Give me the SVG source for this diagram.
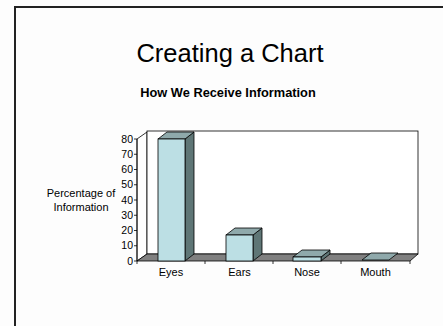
<svg xmlns="http://www.w3.org/2000/svg" width="443" height="326" viewBox="0 0 443 326">
<style>
text{font-family:"Liberation Sans",Arial,sans-serif;fill:#000}
.ax{font-size:10.5px;text-anchor:end}
.cat{font-size:11px;text-anchor:middle}
.front{fill:#BCDFE4;stroke:#000;stroke-width:0.8}
.top{fill:#8FA9AB;stroke:#000;stroke-width:0.8}
.side{fill:#5F7676;stroke:#000;stroke-width:0.8}
.wall{fill:#fff;stroke:#000;stroke-width:0.8}
.ln{stroke:#000;stroke-width:0.8;fill:none}
</style>
<rect width="443" height="326" fill="#fdfdfd"/>
<g id="frame">
<path d="M15 326 V7 H443" fill="none" stroke="#222" stroke-width="2"/>
</g>
<g id="title">
<text x="230" y="62" font-size="25.5" text-anchor="middle">Creating a Chart</text>
<text x="228" y="97" font-size="12.8" font-weight="bold" text-anchor="middle">How We Receive Information</text>
</g>
<g id="ylabel">
<text x="81" y="197" font-size="11" text-anchor="middle">Percentage of</text>
<text x="81" y="211" font-size="11" text-anchor="middle">Information</text>
</g>
<g id="walls">
<polygon class="wall" points="137,139 147,132 147,254 137,261"/>
<rect class="wall" x="147" y="131" width="271" height="123"/>
<polygon points="137,261 147,254 418,254 410,261" fill="#808080" stroke="#000" stroke-width="0.8"/>
</g>
<g id="axis">
<path class="ln" d="M137 139 V261 M134 139 H137 M134 154.25 H137 M134 169.5 H137 M134 184.75 H137 M134 200 H137 M134 215.25 H137 M134 230.5 H137 M134 245.75 H137 M134 261 H137"/>
<path class="ln" d="M137 261 V264 M205 261 V264 M273 261 V264 M341 261 V264 M410 261 V264"/>
<text class="ax" x="133" y="142.5">80</text>
<text class="ax" x="133" y="157.75">70</text>
<text class="ax" x="133" y="173">60</text>
<text class="ax" x="133" y="188.25">50</text>
<text class="ax" x="133" y="203.5">40</text>
<text class="ax" x="133" y="218.75">30</text>
<text class="ax" x="133" y="234">20</text>
<text class="ax" x="133" y="249.25">10</text>
<text class="ax" x="133" y="264.5">0</text>
</g>
<g id="bar-eyes">
<polygon class="side" points="185,139 194,132 194,254 185,261"/>
<polygon class="top" points="158,139 185,139 194,132 167,132"/>
<rect class="front" x="158" y="139" width="27" height="122"/>
<text class="cat" x="171" y="276">Eyes</text>
</g>
<g id="bar-ears">
<polygon class="side" points="253,235 262,228 262,254 253,261"/>
<polygon class="top" points="226,235 253,235 262,228 235,228"/>
<rect class="front" x="226" y="235" width="27" height="26"/>
<text class="cat" x="239.5" y="276">Ears</text>
</g>
<g id="bar-nose">
<polygon class="side" points="321,257 330,250 330,254 321,261"/>
<polygon class="top" points="293,257 321,257 330,250 302,250"/>
<rect class="front" x="293" y="257" width="28" height="4"/>
<text class="cat" x="307" y="276">Nose</text>
</g>
<g id="bar-mouth">
<polygon class="top" points="362,260 389,260 398,253 371,253"/>
<text class="cat" x="375.5" y="276">Mouth</text>
</g>
</svg>
